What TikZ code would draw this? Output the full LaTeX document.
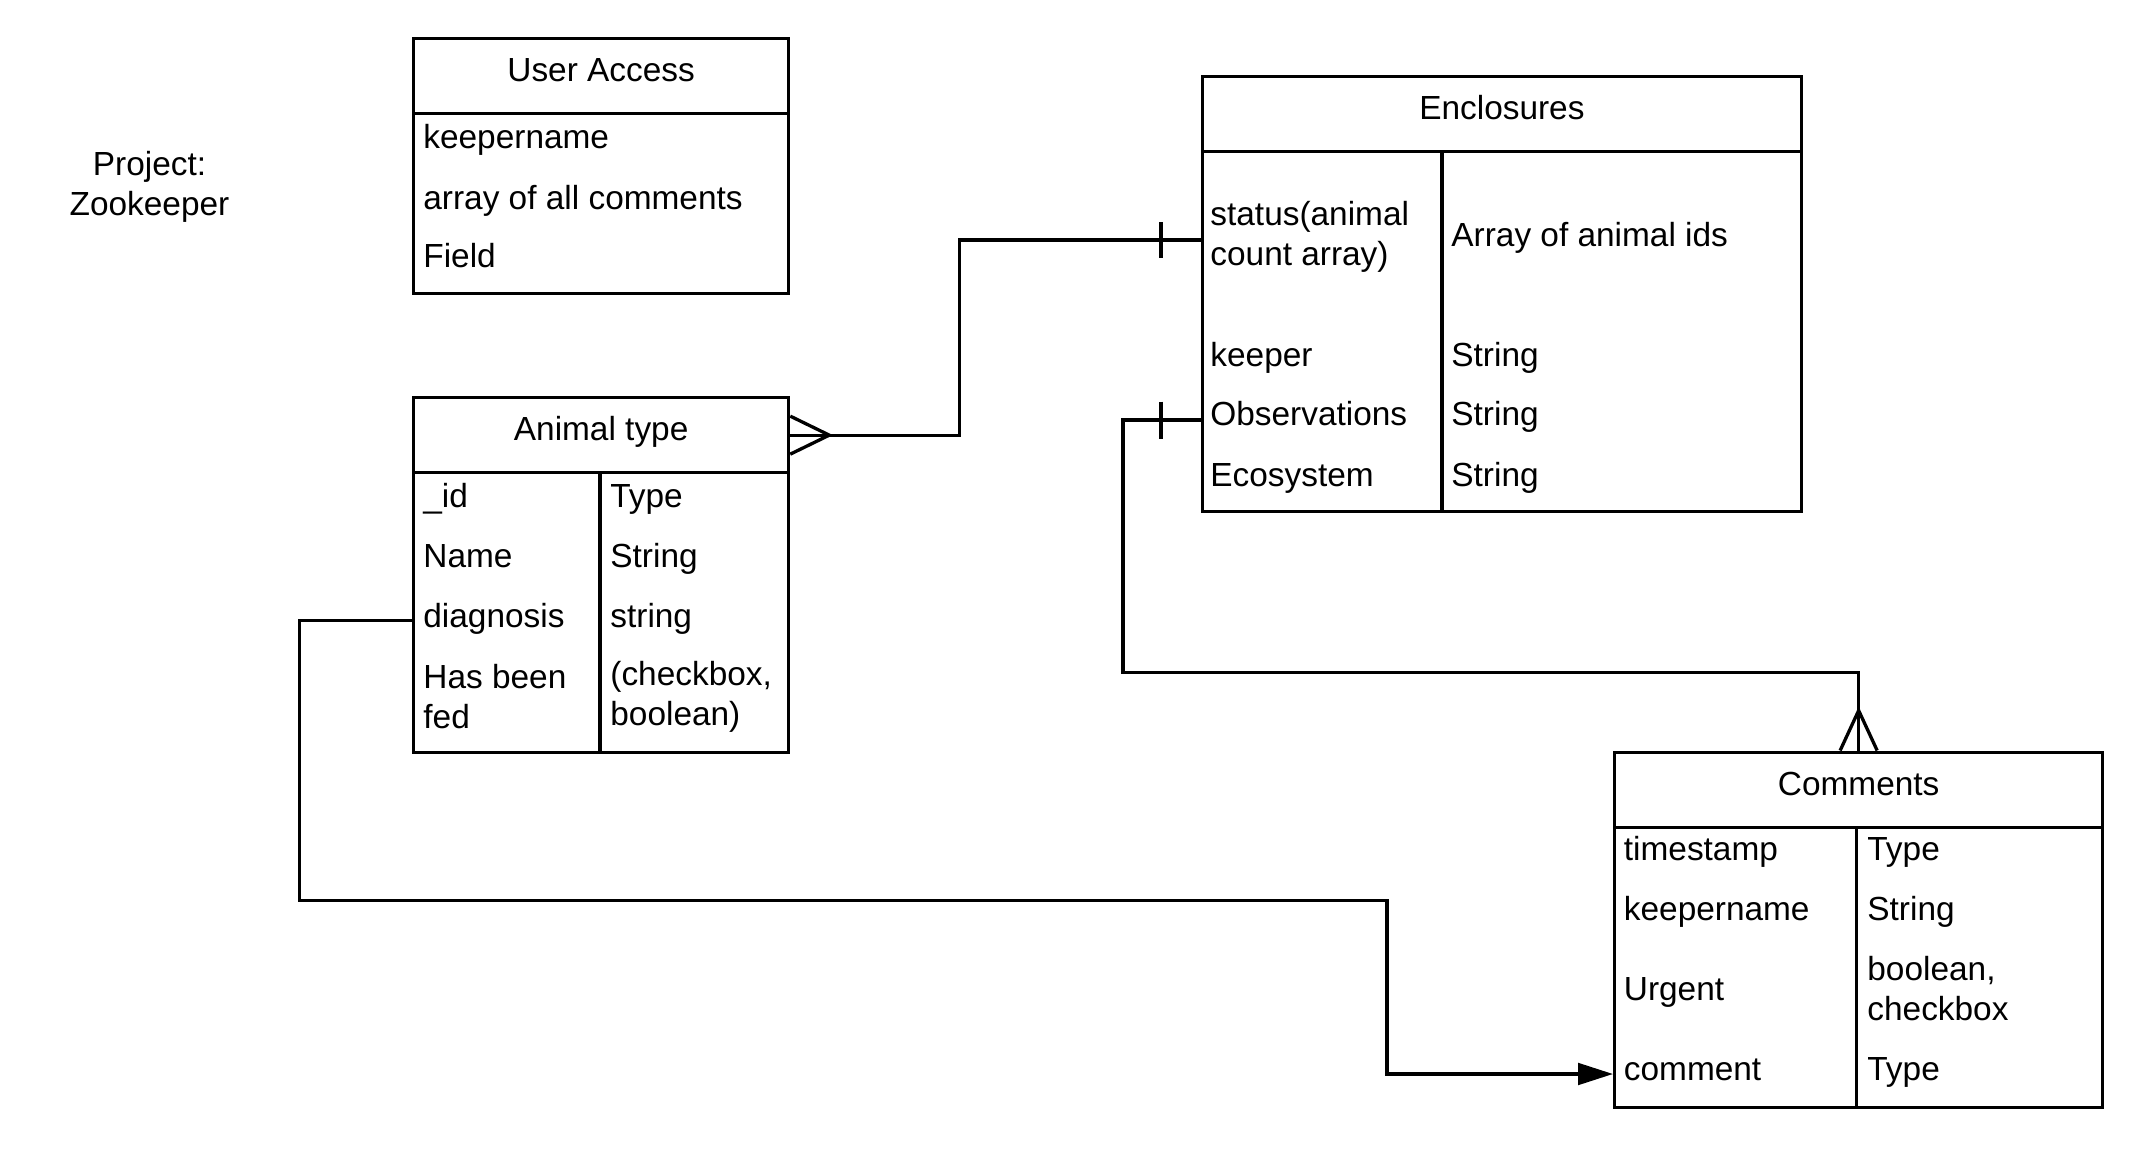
\documentclass[tikz,border=0pt]{standalone}
\usepackage{fontspec}
\setmainfont{Liberation Sans}
\usetikzlibrary{arrows.meta}
\begin{document}
\begin{tikzpicture}[x=0.5pt,y=-0.5pt, font=\fontsize{16.7}{20}\selectfont,
  tbl/.style={draw, line width=1.65pt, inner sep=0pt, anchor=north west, text height=0.72em, text depth=0.2em},
  cell/.style={anchor=west, inner sep=0pt, text height=0.72em, text depth=0.2em, yshift=-2.5pt},
  multi/.style={anchor=west, inner sep=0pt, align=left},
  conn/.style={line width=1.65pt},
  divider/.style={line width=1.65pt}]

\fill[white] (0,0) rectangle (2149,1167);
\useasboundingbox (0,0) rectangle (2149,1167);

% Project label
\node[align=center, inner sep=0pt] (proj) at (149.5,187) {Project:\\Zookeeper};

% User Access
\node[tbl, minimum width=187.5pt, minimum height=37.5pt] (uah) at (412,37) {User Access};
\node[tbl, minimum width=187.5pt, minimum height=90pt] (uab) at (412,112) {};
\node[cell] (ua1) at (423,138.5) {keepername};
\node[cell] (ua2) at (423,199) {array of all comments};
\node[cell] (ua3) at (423,257) {Field};

% Animal type
\node[tbl, minimum width=187.5pt, minimum height=37.5pt] (ath) at (412,396) {Animal type};
\node[tbl, minimum width=187.5pt, minimum height=139.75pt] (atb) at (412,471) {};
\draw[divider] (600,471) -- (600,750.5);
\node[cell] (aid) at (423,497) {\_id};
\node[cell] (anm) at (423,557) {Name};
\node[cell] (adg) at (423,617) {diagnosis};
\node[multi] (afd) at (423,696.5) {Has been\\fed};
\node[cell] (at1) at (610,497) {Type};
\node[cell] (at2) at (610,557) {String};
\node[cell] (at3) at (610,617) {string};
\node[multi] (at4) at (610,696.5) {(checkbox,\\boolean)};

% Enclosures
\node[tbl, minimum width=299.75pt, minimum height=37.75pt] (ench) at (1200.5,74.5) {Enclosures};
\node[tbl, minimum width=299.75pt, minimum height=179.75pt] (encb) at (1200.5,150) {};
\draw[divider] (1442,150) -- (1442,509.5);
\node[multi] (est) at (1210,236.5) {status(animal\\count array)};
\node[cell] (ekp) at (1210,356) {keeper};
\node[cell] (eob) at (1210,415) {Observations};
\node[cell] (eec) at (1210,476) {Ecosystem};
\node[cell] (eai) at (1451,236.5) {Array of animal ids};
\node[cell] (es1) at (1451,356) {String};
\node[cell] (es2) at (1451,415) {String};
\node[cell] (es3) at (1451,476) {String};

% Comments
\node[tbl, minimum width=244pt, minimum height=37.75pt] (comh) at (1613,750.5) {Comments};
\node[tbl, minimum width=244pt, minimum height=139.75pt] (comb) at (1613,826) {};
\draw[divider] (1856.6,826) -- (1856.6,1105.5);
\node[cell] (cts) at (1623.5,850.5) {timestamp};
\node[cell] (ckn) at (1623.5,910.5) {keepername};
\node[cell] (cur) at (1623.5,990.5) {Urgent};
\node[cell] (cmt) at (1623.5,1070.5) {comment};
\node[cell] (ct1) at (1867,850.5) {Type};
\node[cell] (ct2) at (1867,910.5) {String};
\node[multi] (ct3) at (1867,989) {boolean,\\checkbox};
\node[cell] (ct4) at (1867,1070.5) {Type};

% Connector: Animal type (many) -- Enclosures status (one)
\coordinate (c1) at (encb.west |- est.west);
\draw[conn] (ath.east) -- ++(169,0) |- ([yshift=-1.75pt]c1);
\draw[conn] ([yshift=-1.75pt]c1) ++(-39.5,-18) -- ++(0,36);
\draw[conn] (ath.east) ++(0,-19) -- ++(39,19) -- ++(-39,19);

% Connector: Enclosures Observations (one) -- Comments (many)
\coordinate (c2) at (encb.west |- eob.west);
\draw[conn] (c2) -- ++(-77.5,0) |- ([yshift=39pt]comh.north) -- (comh.north);
\draw[conn] (c2) ++(-39.5,-18.5) -- ++(0,37);
\draw[conn] (comh.north) ++(-18.5,0) -- ++(18.5,-40) -- ++(18.5,40);

% Connector: Animal diagnosis -> Comments comment
\coordinate (c3) at (atb.west |- adg.west);
\coordinate (c4) at (comb.west |- cmt.west);
\draw[conn, -{Triangle[length=17.5pt,width=10.8pt]}] ([yshift=0.75pt]c3) -- ++(-112.4,0) |- ++(1087.4,280.1) |- ([yshift=0.75pt]c4);

\end{tikzpicture}
\end{document}
